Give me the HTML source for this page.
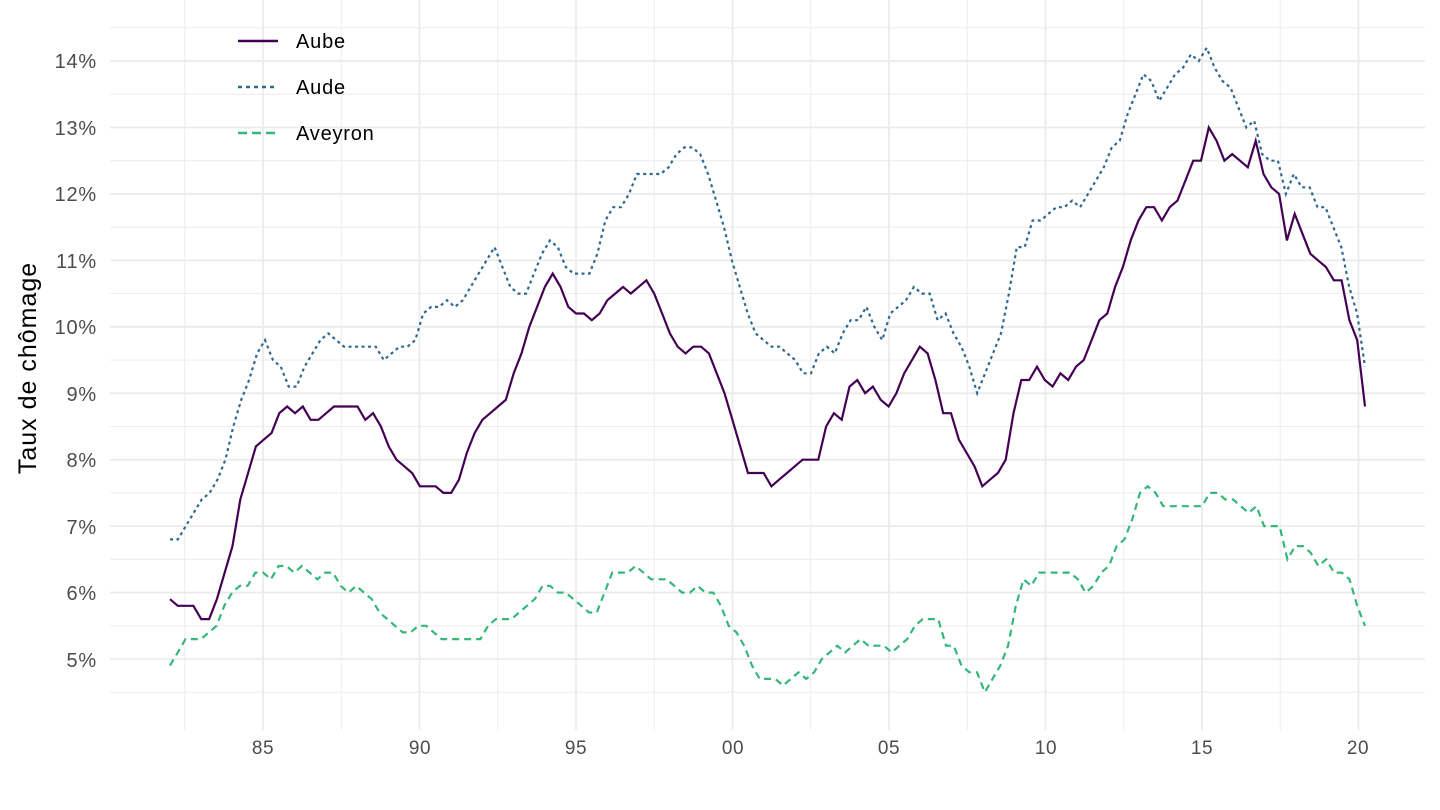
<!DOCTYPE html>
<html><head><meta charset="utf-8"><style>
html,body{margin:0;padding:0;background:#fff}
svg{display:block;font-family:"Liberation Sans",Arial,sans-serif}
</style></head><body>
<svg id="c" width="1440" height="810" viewBox="0 0 1440 810">
<g id="grid"></g>
<g font-size="20" fill="#4d4d4d" text-anchor="end" letter-spacing="0.8">
<text x="97" y="68">14%</text><text x="97" y="135">13%</text><text x="97" y="201">12%</text>
<text x="97" y="268">11%</text><text x="97" y="334">10%</text><text x="97" y="401">9%</text>
<text x="97" y="467">8%</text><text x="97" y="534">7%</text><text x="97" y="600">6%</text>
<text x="97" y="667">5%</text>
</g>
<g font-size="19" fill="#4d4d4d" text-anchor="middle" letter-spacing="0.5">
<text x="263" y="754">85</text><text x="420" y="754">90</text><text x="576" y="754">95</text>
<text x="733" y="754">00</text><text x="889" y="754">05</text><text x="1046" y="754">10</text>
<text x="1202" y="754">15</text><text x="1358" y="754">20</text>
</g>
<text transform="translate(36,368) rotate(-90)" font-size="25" letter-spacing="1" fill="#000" text-anchor="middle">Taux de chômage</text>
<g id="lines" fill="none" stroke-width="2.2"></g>
<g font-size="20" fill="#000" letter-spacing="0.8">
<line x1="238" y1="41" x2="278" y2="41" stroke="#440154" stroke-width="2.4"/>
<line x1="238" y1="87" x2="278" y2="87" stroke="#31688E" stroke-width="2.4" stroke-dasharray="4,4"/>
<line x1="238" y1="133" x2="278" y2="133" stroke="#35B779" stroke-width="2.4" stroke-dasharray="9,5"/>
<text x="296" y="48">Aube</text><text x="296" y="94">Aude</text><text x="296" y="140">Aveyron</text>
</g>
</svg>
<script>
const NS="http://www.w3.org/2000/svg";
const g=document.getElementById('grid');
function ln(x1,y1,x2,y2,w){const l=document.createElementNS(NS,'line');l.setAttribute('x1',x1);l.setAttribute('y1',y1);l.setAttribute('x2',x2);l.setAttribute('y2',y2);l.setAttribute('stroke','#ebebeb');l.setAttribute('stroke-width',w);g.appendChild(l);}
const Y=v=>659-(v-5)*66.44, X=yr=>263+(yr-1985)*31.3;
for(let v=4.5;v<=14.5;v+=0.5){const y=Y(v);if(y<0||y>730)continue;ln(110,y,1425,y,(v%1===0)?1.8:0.9);}
for(let yr=1982.5;yr<=2022.5;yr+=2.5){const x=X(yr);if(x<110||x>1425)continue;ln(x,0,x,730,(yr%5===0)?1.8:0.9);}
const aube=[5.9,5.8,5.8,5.8,5.6,5.6,5.9,6.3,6.7,7.4,7.8,8.2,8.3,8.4,8.7,8.8,8.7,8.8,8.6,8.6,8.7,8.8,8.8,8.8,8.8,8.6,8.7,8.5,8.2,8.0,7.9,7.8,7.6,7.6,7.6,7.5,7.5,7.7,8.1,8.4,8.6,8.7,8.8,8.9,9.3,9.6,10.0,10.3,10.6,10.8,10.6,10.3,10.2,10.2,10.1,10.2,10.4,10.5,10.6,10.5,10.6,10.7,10.5,10.2,9.9,9.7,9.6,9.7,9.7,9.6,9.3,9.0,8.6,8.2,7.8,7.8,7.8,7.6,7.7,7.8,7.9,8.0,8.0,8.0,8.5,8.7,8.6,9.1,9.2,9.0,9.1,8.9,8.8,9.0,9.3,9.5,9.7,9.6,9.2,8.7,8.7,8.3,8.1,7.9,7.6,7.7,7.8,8.0,8.7,9.2,9.2,9.4,9.2,9.1,9.3,9.2,9.4,9.5,9.8,10.1,10.2,10.6,10.9,11.3,11.6,11.8,11.8,11.6,11.8,11.9,12.2,12.5,12.5,13.0,12.8,12.5,12.6,12.5,12.4,12.8,12.3,12.1,12.0,11.3,11.7,11.4,11.1,11.0,10.9,10.7,10.7,10.1,9.8,8.8];
const aude=[6.8,6.8,7.0,7.2,7.4,7.5,7.7,8.0,8.5,8.9,9.2,9.6,9.8,9.5,9.4,9.1,9.1,9.4,9.6,9.8,9.9,9.8,9.7,9.7,9.7,9.7,9.7,9.5,9.6,9.7,9.7,9.8,10.2,10.3,10.3,10.4,10.3,10.4,10.6,10.8,11.0,11.2,10.9,10.6,10.5,10.5,10.8,11.1,11.3,11.2,10.9,10.8,10.8,10.8,11.1,11.6,11.8,11.8,12.0,12.3,12.3,12.3,12.3,12.4,12.6,12.7,12.7,12.6,12.3,11.9,11.5,11.0,10.6,10.2,9.9,9.8,9.7,9.7,9.6,9.5,9.3,9.3,9.6,9.7,9.6,9.9,10.1,10.1,10.3,10.0,9.8,10.2,10.3,10.4,10.6,10.5,10.5,10.1,10.2,9.9,9.7,9.4,9.0,9.3,9.6,9.9,10.5,11.2,11.2,11.6,11.6,11.7,11.8,11.8,11.9,11.8,12.0,12.2,12.4,12.7,12.8,13.2,13.5,13.8,13.7,13.4,13.6,13.8,13.9,14.1,14.0,14.2,13.9,13.7,13.6,13.3,13.0,13.1,12.6,12.5,12.5,12.0,12.3,12.1,12.1,11.8,11.8,11.5,11.2,10.6,10.2,9.4];
const avey=[4.9,5.1,5.3,5.3,5.3,5.4,5.5,5.8,6.0,6.1,6.1,6.3,6.3,6.2,6.4,6.4,6.3,6.4,6.3,6.2,6.3,6.3,6.1,6.0,6.1,6.0,5.9,5.7,5.6,5.5,5.4,5.4,5.5,5.5,5.4,5.3,5.3,5.3,5.3,5.3,5.3,5.5,5.6,5.6,5.6,5.7,5.8,5.9,6.1,6.1,6.0,6.0,5.9,5.8,5.7,5.7,6.0,6.3,6.3,6.3,6.4,6.3,6.2,6.2,6.2,6.1,6.0,6.0,6.1,6.0,6.0,5.8,5.5,5.4,5.2,4.9,4.7,4.7,4.7,4.6,4.7,4.8,4.7,4.8,5.0,5.1,5.2,5.1,5.2,5.3,5.2,5.2,5.2,5.1,5.2,5.3,5.5,5.6,5.6,5.6,5.2,5.2,4.9,4.8,4.8,4.5,4.7,4.9,5.2,5.8,6.2,6.1,6.3,6.3,6.3,6.3,6.3,6.2,6.0,6.1,6.3,6.4,6.7,6.8,7.1,7.5,7.6,7.5,7.3,7.3,7.3,7.3,7.3,7.3,7.5,7.5,7.4,7.4,7.3,7.2,7.3,7.0,7.0,7.0,6.5,6.7,6.7,6.6,6.4,6.5,6.3,6.3,6.2,5.8,5.5];
const L=document.getElementById('lines');
function draw(d,c,dash){const p=document.createElementNS(NS,'polyline');const n=d.length;
p.setAttribute('points',d.map((v,i)=>(170+i*(1365-170)/(n-1)).toFixed(1)+','+Y(v).toFixed(1)).join(' '));
p.setAttribute('stroke',c);if(dash)p.setAttribute('stroke-dasharray',dash);L.appendChild(p);}
draw(aude,'#31688E','3,3.5');draw(aube,'#440154');draw(avey,'#35B779','7,5');
</script>
</body></html>
